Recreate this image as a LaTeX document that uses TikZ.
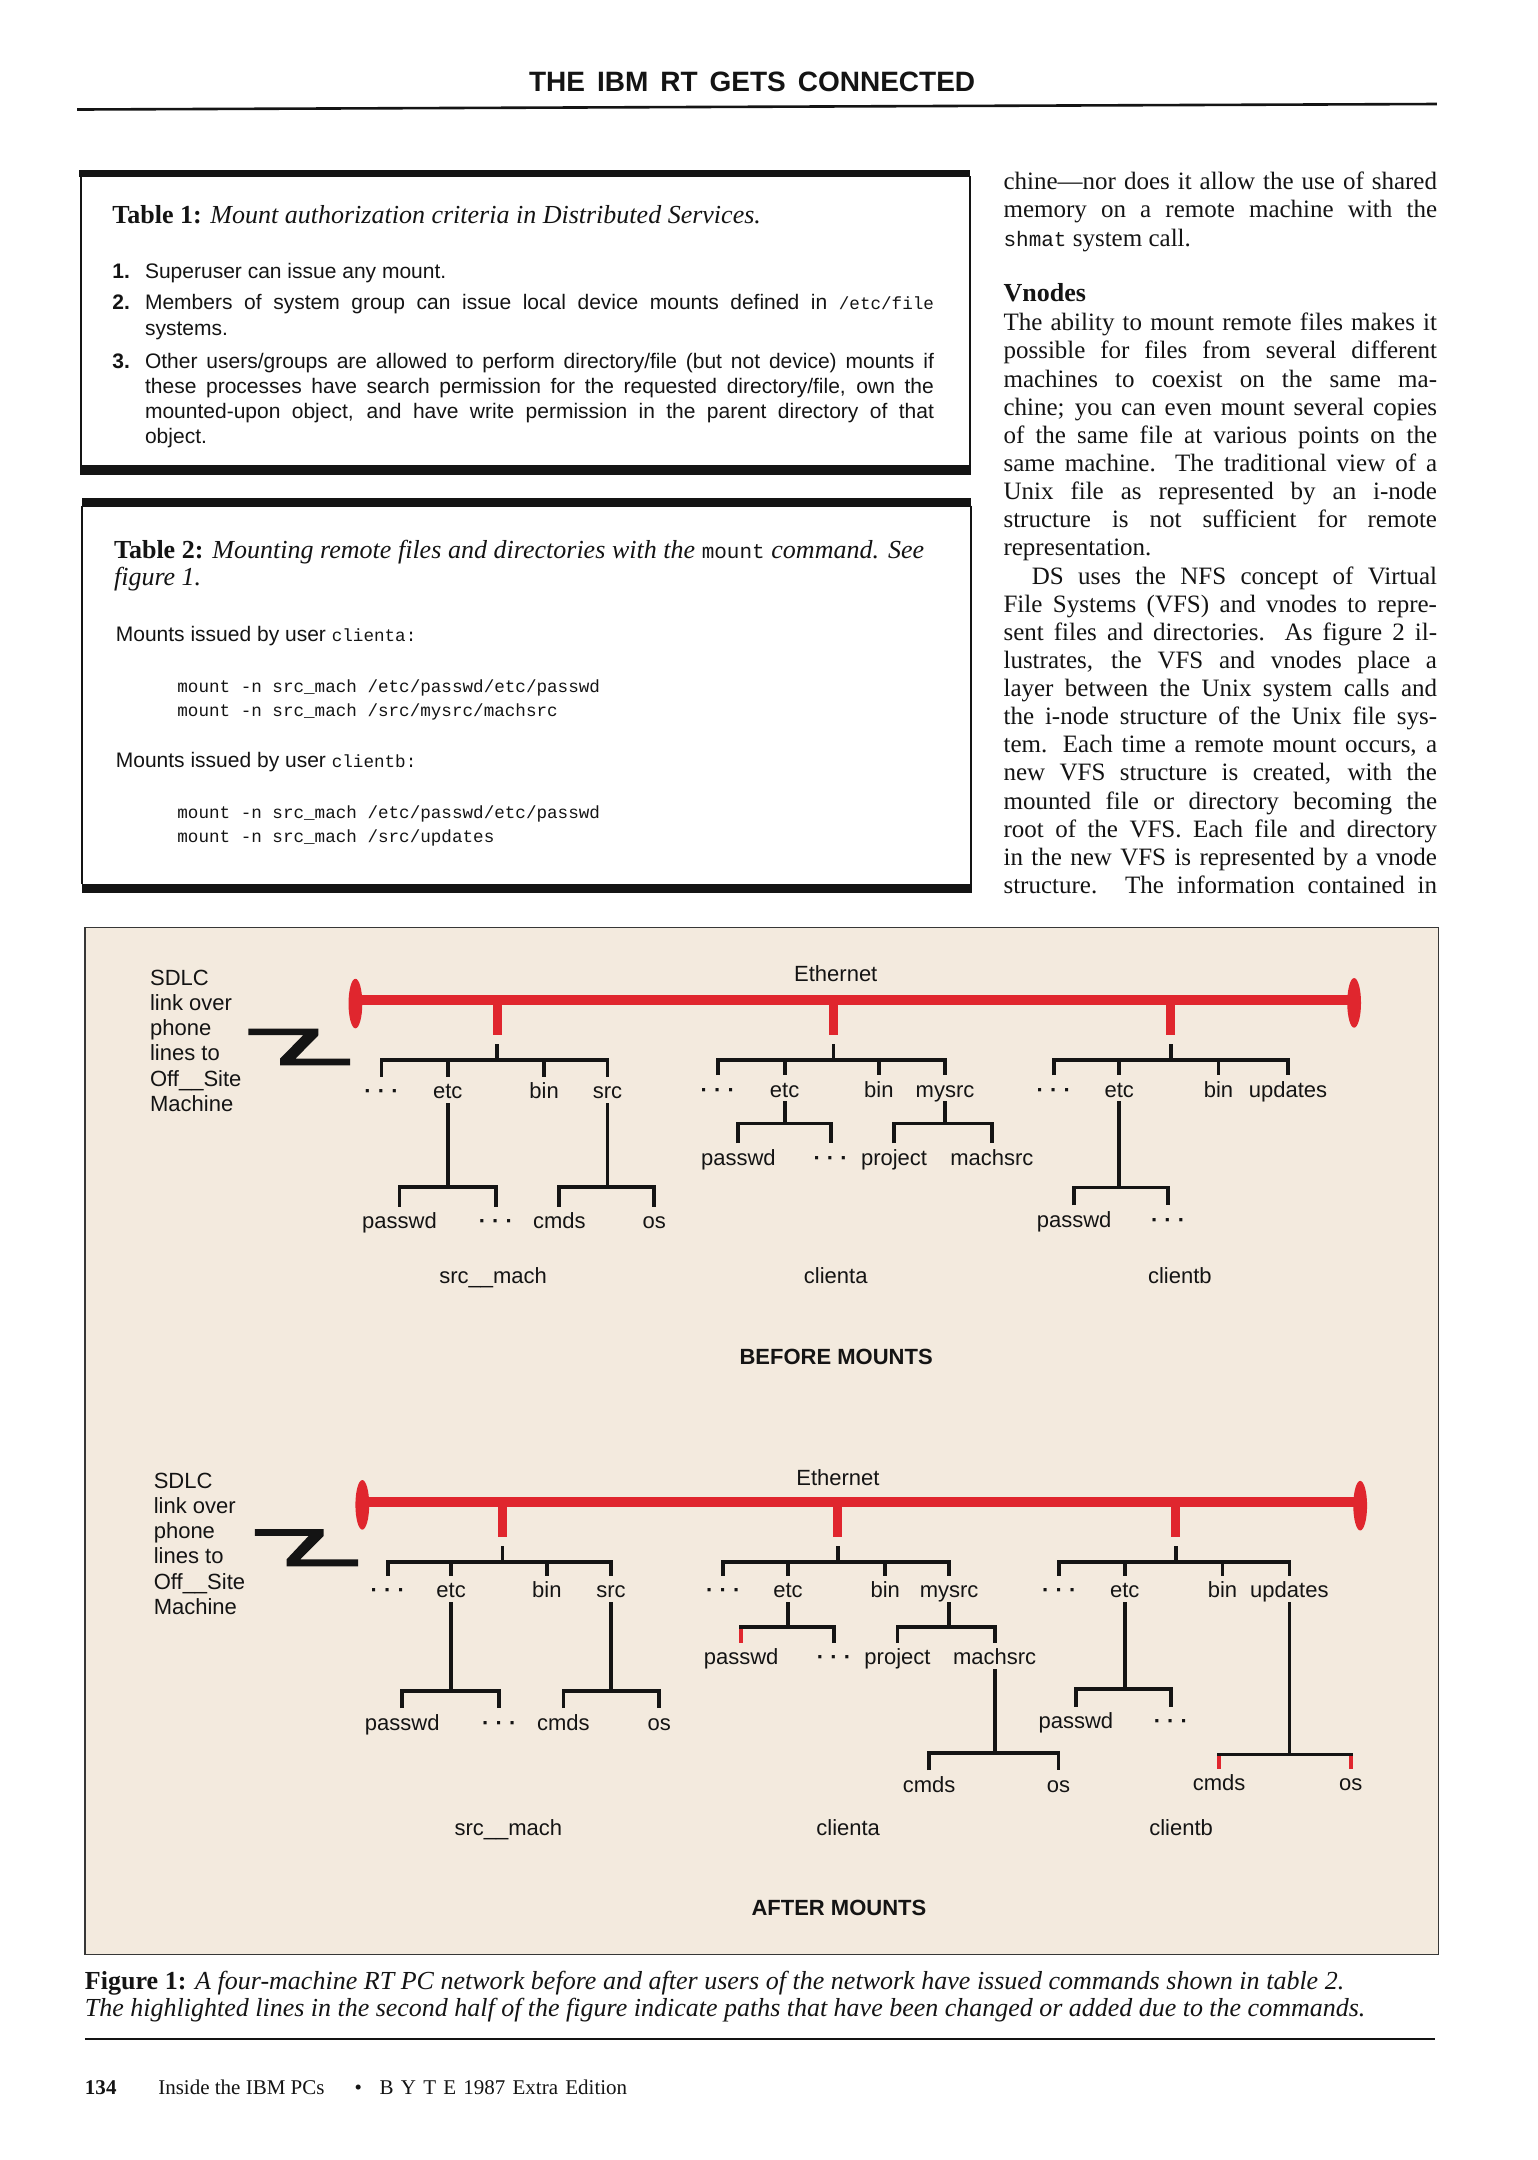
\documentclass[tikz,border=0pt]{standalone}
\usepackage{fontspec}
\setmainfont{Liberation Serif}
\setsansfont{Liberation Sans}
\setmonofont{Liberation Mono}
\definecolor{ethred}{RGB}{224,38,46}
\definecolor{figbg}{RGB}{243,234,222}
\definecolor{ink}{RGB}{20,20,20}
\newcommand\tdots{\textbf{·\hspace{0.28em}·\hspace{0.28em}·}}
\newcommand\brk[3]{\draw[tl] (#1.north) -- (#1.north |- #3) -- (#2.north |- #3) -- (#2.north);}
\newcommand\tck[2]{\draw[tl] (#1.north |- #2) -- (#1.north);}
\newcommand\rtck[2]{\draw[rtl] (#1.north |- #2) -- (#1.north);}
\newcommand\stm[2]{\draw[tl] (#1.south) -- (#1.south |- #2);}
\newcommand\jb[2]{\makebox[#1][s]{#2}}
\newcommand\mtt[1]{{\fontsize{17.6}{20}\selectfont\ttfamily #1}}
\begin{document}
\begin{tikzpicture}[x=1.3772pt,y=-1.3772pt,
  lbl/.style={font=\fontsize{22}{25}\selectfont\sffamily, inner sep=0pt, outer sep=0pt, text height=22.1pt, text depth=4.3pt, anchor=mid, yshift=-4.5pt, text=ink},
  sdlc/.style={anchor=north west, align=left, inner sep=0pt, font=\fontsize{22}{25.2}\selectfont\sffamily, text=ink},
  ttl/.style={anchor=base, inner sep=0pt, font=\fontsize{22}{26}\selectfont\sffamily\bfseries, text=ink},
  tl/.style={line width=3.8pt, line join=miter, line cap=butt, draw=ink},
  rtl/.style={line width=3.8pt, line cap=butt, draw=ethred},
  bus/.style={line width=10pt, draw=ethred},
  drop/.style={line width=9pt, draw=ethred},
  txt/.style={anchor=base west, inner sep=0pt, outer sep=0pt, text=ink},
  hdr/.style={anchor=base, inner sep=0pt, font=\fontsize{28}{32}\selectfont\sffamily\bfseries, text=ink},
  col/.style={txt, font=\fontsize{25}{28}\selectfont\rmfamily},
  t1/.style={txt, font=\fontsize{21}{25}\selectfont\sffamily},
  tnum/.style={txt, font=\fontsize{21}{25}\selectfont\sffamily\bfseries},
  ttitle/.style={txt, font=\fontsize{26}{30}\selectfont\rmfamily},
  mono/.style={txt, font=\fontsize{17.6}{20}\selectfont\ttfamily},
  capt/.style={txt, font=\fontsize{26}{28}\selectfont\rmfamily\itshape},
  foot/.style={txt, font=\fontsize{21}{24}\selectfont\rmfamily}
]
\fill[white] (0,0) rectangle (1116,1568);
\useasboundingbox (0,0) rectangle (1116,1568);

% ---------- header ----------
\node[hdr] (hdr) at (546,66.6) {\jb{446pt}{THE IBM RT GETS CONNECTED}};
\coordinate (hrL) at (56,79.5);
\coordinate (hrR) at (1043,75.5);
\draw[line width=2.6pt, ink] (hrL) -- (hrR);

% ---------- Table 1 ----------
\fill[ink] (57.2,123.4) rectangle (703.8,128.8);
\draw[line width=1.8pt, ink] (58.8,128) -- (58.8,338);
\draw[line width=1.8pt, ink] (704,128) -- (704,338);
\fill[ink] (58,337.6) rectangle (704.8,345);
\node[ttitle] (t1t) at (81.6,162) {\textbf{Table 1:} \textit{Mount authorization criteria in Distributed Services.}};
\node[tnum] (t1n1) at (81.6,202) {1.};
\node[t1] (t1a) at (105.3,202) {Superuser can issue any mount.};
\node[tnum] (t1n2) at (81.6,225) {2.};
\node[t1] (t1b) at (105.3,225) {\jb{788.7pt}{Members of system group can issue local device mounts defined in \mtt{/etc/file}}};
\node[t1] (t1c) at (105.3,243.3) {systems.};
\node[tnum] (t1n3) at (81.6,267.5) {3.};
\node[t1] (t1d) at (105.3,267.5) {\jb{788.7pt}{Other users/groups are allowed to perform directory/file (but not device) mounts if}};
\node[t1] (t1e) at (105.3,285.6) {\jb{788.7pt}{these processes have search permission for the requested directory/file, own the}};
\node[t1] (t1f) at (105.3,303.8) {\jb{788.7pt}{mounted-upon object, and have write permission in the parent directory of that}};
\node[t1] (t1g) at (105.3,321.9) {object.};

% ---------- Table 2 ----------
\fill[ink] (59.3,361.8) rectangle (705,367.9);
\draw[line width=1.8pt, ink] (59.8,367) -- (59.8,642);
\draw[line width=1.8pt, ink] (705,367) -- (705,642);
\fill[ink] (59.3,641.4) rectangle (705.5,648.6);
\node[ttitle] (t2t) at (82.8,405.4) {\jb{809.9pt}{\textbf{Table 2:} \textit{Mounting remote files and directories with the} {\fontsize{21}{24}\selectfont\ttfamily mount} \textit{command. See}}};
\node[ttitle] (t2t2) at (82.8,424.8) {\textit{figure 1.}};
\node[t1] (t2a) at (84.1,465.9) {Mounts issued by user \mtt{clienta:}};
\node[mono] (t2b) at (128.8,503) {mount -n src\_mach /etc/passwd/etc/passwd};
\node[mono] (t2c) at (128.8,520.4) {mount -n src\_mach /src/mysrc/machsrc};
\node[t1] (t2d) at (84.1,557.2) {Mounts issued by user \mtt{clientb:}};
\node[mono] (t2e) at (128.8,594.2) {mount -n src\_mach /etc/passwd/etc/passwd};
\node[mono] (t2f) at (128.8,611.9) {mount -n src\_mach /src/updates};

% ---------- right column ----------
\node[col] (c01) at (728.5,137.5) {\jb{433.4pt}{chine—nor does it allow the use of shared}};
\node[col] (c02) at (728.5,158) {\jb{433.4pt}{memory on a remote machine with the}};
\node[col] (c03) at (728.5,178.6) {{\fontsize{21}{28}\selectfont\ttfamily shmat} system call.};
\node[col, font=\fontsize{26}{28}\selectfont\rmfamily\bfseries] (vh) at (728.5,219) {Vnodes};
\node[col] (p00) at (728.5,240.2) {\jb{433.4pt}{The ability to mount remote files makes it}};
\node[col] (p01) at (728.5,260.6) {\jb{433.4pt}{possible for files from several different}};
\node[col] (p02) at (728.5,281.0) {\jb{433.4pt}{machines to coexist on the same ma-}};
\node[col] (p03) at (728.5,301.5) {\jb{433.4pt}{chine; you can even mount several copies}};
\node[col] (p04) at (728.5,321.9) {\jb{433.4pt}{of the same file at various points on the}};
\node[col] (p05) at (728.5,342.3) {\jb{433.4pt}{same machine. The traditional view of a}};
\node[col] (p06) at (728.5,362.7) {\jb{433.4pt}{Unix file as represented by an i-node}};
\node[col] (p07) at (728.5,383.1) {\jb{433.4pt}{structure is not sufficient for remote}};
\node[col] (p08) at (728.5,403.6) {representation.};
\node[col] (p09) at (749,424.0) {\jb{405.2pt}{DS uses the NFS concept of Virtual}};
\node[col] (p10) at (728.5,444.4) {\jb{433.4pt}{File Systems (VFS) and vnodes to repre-}};
\node[col] (p11) at (728.5,464.8) {\jb{433.4pt}{sent files and directories. As figure 2 il-}};
\node[col] (p12) at (728.5,485.2) {\jb{433.4pt}{lustrates, the VFS and vnodes place a}};
\node[col] (p13) at (728.5,505.7) {\jb{433.4pt}{layer between the Unix system calls and}};
\node[col] (p14) at (728.5,526.1) {\jb{433.4pt}{the i-node structure of the Unix file sys-}};
\node[col] (p15) at (728.5,546.5) {\jb{433.4pt}{tem. Each time a remote mount occurs, a}};
\node[col] (p16) at (728.5,566.9) {\jb{433.4pt}{new VFS structure is created, with the}};
\node[col] (p17) at (728.5,587.3) {\jb{433.4pt}{mounted file or directory becoming the}};
\node[col] (p18) at (728.5,607.8) {\jb{433.4pt}{root of the VFS. Each file and directory}};
\node[col] (p19) at (728.5,628.2) {\jb{433.4pt}{in the new VFS is represented by a vnode}};
\node[col] (p20) at (728.5,648.6) {\jb{433.4pt}{structure. The information contained in}};

% ---------- figure frame ----------
\draw[line width=1.5pt, draw=ink!85, fill=figbg] (61.6,673.3) rectangle (1044.4,1418.8);

% ===== BEFORE MOUNTS =====
\node[sdlc] (sdlc1) at (108.8,704) {SDLC\\link over\\phone\\lines to\\Off\_\_Site\\Machine};
\fill[ink] (180.3,746.7) -- (231.2,746.7) -- (231.2,751.5) -- (214.5,768.5) -- (254.1,768.5) -- (254.1,773.3) -- (203.3,773.3) -- (203.3,768.5) -- (220,751.5) -- (180.3,751.5) -- cycle;
\node[ttl] (eth1) at (606.7,712.7) {\fontseries{m}\selectfont Ethernet};
\coordinate (busL1) at (258,726);
\coordinate (busR1) at (983,726);
\draw[bus] (busL1) -- (busR1);
\fill[ethred] (258,728.5) ellipse [x radius=5, y radius=18];
\fill[ethred] (983,728) ellipse [x radius=5, y radius=18];
\coordinate (dA1) at (360.8,751.5);
\coordinate (dA2) at (605,751.5);
\coordinate (dA3) at (850,751.5);
\draw[drop] (dA1 |- busL1) -- (dA1);
\draw[drop] (dA2 |- busL1) -- (dA2);
\draw[drop] (dA3 |- busL1) -- (dA3);
% tree src_mach
\node[lbl] (d1) at (277,792.7) {\tdots};
\node[lbl] (etc1) at (325,792.7) {etc};
\node[lbl] (bin1) at (395,792.7) {bin};
\node[lbl] (src1) at (441,792.7) {src};
\node[lbl] (pw1) at (290,887) {passwd};
\node[lbl] (dd1) at (360,887) {\tdots};
\node[lbl] (cm1) at (406,887) {cmds};
\node[lbl] (os1) at (475,887) {os};
\node[lbl] (sm1) at (358,927) {src\_\_mach};
\coordinate (s1) at (360.8,758);
\coordinate (r1) at (360.8,769.7);
\draw[tl] (s1) -- (r1);
\brk{d1}{src1}{r1} \tck{etc1}{r1} \tck{bin1}{r1}
\coordinate (j1e) at (325,861.7);
\stm{etc1}{j1e} \brk{pw1}{dd1}{j1e}
\coordinate (j1s) at (441,861.7);
\stm{src1}{j1s} \brk{cm1}{os1}{j1s}
% tree clienta
\node[lbl] (d2) at (521,791.5) {\tdots};
\node[lbl] (etc2) at (569.6,791.5) {etc};
\node[lbl] (bin2) at (638,791.5) {bin};
\node[lbl] (my2) at (686,791.5) {mysrc};
\node[lbl] (pw2) at (536,841) {passwd};
\node[lbl] (dd2) at (603,841) {\tdots};
\node[lbl] (pj2) at (649,841) {project};
\node[lbl] (ms2) at (720,841) {machsrc};
\node[lbl] (ca1) at (606.7,927) {clienta};
\coordinate (s2) at (605,758);
\coordinate (r2) at (605,769.7);
\draw[tl] (s2) -- (r2);
\brk{d2}{my2}{r2} \tck{etc2}{r2} \tck{bin2}{r2}
\coordinate (j2e) at (569.6,815.5);
\stm{etc2}{j2e} \brk{pw2}{dd2}{j2e}
\coordinate (j2m) at (686,815.5);
\stm{my2}{j2m} \brk{pj2}{ms2}{j2m}
% tree clientb
\node[lbl] (d3) at (765,791.5) {\tdots};
\node[lbl] (etc3) at (812.5,791.5) {etc};
\node[lbl] (bin3) at (884.5,791.5) {bin};
\node[lbl] (up3) at (935,791.5) {updates};
\node[lbl] (pw3) at (779.7,886) {passwd};
\node[lbl] (dd3) at (848,886) {\tdots};
\node[lbl] (cb1) at (856.5,927) {clientb};
\coordinate (s3) at (850,758);
\coordinate (r3) at (850,769.7);
\draw[tl] (s3) -- (r3);
\brk{d3}{up3}{r3} \tck{etc3}{r3} \tck{bin3}{r3}
\coordinate (j3e) at (812.5,862);
\stm{etc3}{j3e} \brk{pw3}{dd3}{j3e}
\node[ttl] (bm) at (607,990.2) {BEFORE MOUNTS};

% ===== AFTER MOUNTS =====
\node[sdlc] (sdlc2) at (111.5,1069.1) {SDLC\\link over\\phone\\lines to\\Off\_\_Site\\Machine};
\fill[ink] (185,1110) -- (235,1110) -- (235,1115) -- (218,1132) -- (260,1132) -- (260,1137) -- (208,1137) -- (208,1132) -- (224,1115) -- (185,1115) -- cycle;
\node[ttl] (eth2) at (608.3,1078) {\fontseries{m}\selectfont Ethernet};
\coordinate (busL2) at (263,1090);
\coordinate (busR2) at (987.4,1090);
\draw[bus] (busL2) -- (busR2);
\fill[ethred] (263,1092.4) ellipse [x radius=5, y radius=18];
\fill[ethred] (987.4,1093) ellipse [x radius=5, y radius=18];
\coordinate (dB1) at (364.8,1116);
\coordinate (dB2) at (608.3,1116);
\coordinate (dB3) at (853.4,1116);
\draw[drop] (dB1 |- busL2) -- (dB1);
\draw[drop] (dB2 |- busL2) -- (dB2);
\draw[drop] (dB3 |- busL2) -- (dB3);
% tree src_mach
\node[lbl] (d4) at (281.5,1155) {\tdots};
\node[lbl] (etc4) at (327.5,1155) {etc};
\node[lbl] (bin4) at (397,1155) {bin};
\node[lbl] (src4) at (443.5,1155) {src};
\node[lbl] (pw4) at (292,1251) {passwd};
\node[lbl] (dd4) at (362.5,1251) {\tdots};
\node[lbl] (cm4) at (409,1251) {cmds};
\node[lbl] (os4) at (478.5,1251) {os};
\node[lbl] (sm2) at (369,1327.3) {src\_\_mach};
\coordinate (s4) at (364.8,1122.4);
\coordinate (r4) at (364.8,1133.6);
\draw[tl] (s4) -- (r4);
\brk{d4}{src4}{r4} \tck{etc4}{r4} \tck{bin4}{r4}
\coordinate (j4e) at (327.5,1227.4);
\stm{etc4}{j4e} \brk{pw4}{dd4}{j4e}
\coordinate (j4s) at (443.5,1227.4);
\stm{src4}{j4s} \brk{cm4}{os4}{j4s}
% tree clienta
\node[lbl] (d5) at (525,1155) {\tdots};
\node[lbl] (etc5) at (572,1155) {etc};
\node[lbl] (bin5) at (642.6,1155) {bin};
\node[lbl] (my5) at (689,1155) {mysrc};
\node[lbl] (pw5) at (538,1203.6) {passwd};
\node[lbl] (dd5) at (605.5,1203.6) {\tdots};
\node[lbl] (pj5) at (651.5,1203.6) {project};
\node[lbl] (ms5) at (722,1203.6) {machsrc};
\node[lbl] (cm5) at (674.5,1296) {cmds};
\node[lbl] (os5) at (768.4,1296) {os};
\node[lbl] (ca2) at (615.7,1327.3) {clienta};
\coordinate (s5) at (608.3,1122.4);
\coordinate (r5) at (608.3,1133.6);
\draw[tl] (s5) -- (r5);
\brk{d5}{my5}{r5} \tck{etc5}{r5} \tck{bin5}{r5}
\coordinate (j5e) at (572,1181.1);
\stm{etc5}{j5e}
\rtck{pw5}{j5e}
\draw[tl, line cap=rect] (pw5.north |- j5e) -- (dd5.north |- j5e);
\tck{dd5}{j5e}
\coordinate (j5m) at (689,1181.1);
\stm{my5}{j5m} \brk{pj5}{ms5}{j5m}
\coordinate (j5x) at (722,1272.4);
\stm{ms5}{j5x} \brk{cm5}{os5}{j5x}
% tree clientb
\node[lbl] (d6) at (768.9,1155) {\tdots};
\node[lbl] (etc6) at (816.5,1155) {etc};
\node[lbl] (bin6) at (887.4,1155) {bin};
\node[lbl] (up6) at (936,1155) {updates};
\node[lbl] (pw6) at (781,1249.9) {passwd};
\node[lbl] (dd6) at (850,1249.9) {\tdots};
\node[lbl] (cm6) at (885,1295) {cmds};
\node[lbl] (os6) at (980.5,1295) {os};
\node[lbl] (cb2) at (857.4,1327.3) {clientb};
\coordinate (s6) at (853.4,1122.4);
\coordinate (r6) at (853.4,1133.6);
\draw[tl] (s6) -- (r6);
\brk{d6}{up6}{r6} \tck{etc6}{r6} \tck{bin6}{r6}
\coordinate (j6e) at (816.5,1226.1);
\stm{etc6}{j6e} \brk{pw6}{dd6}{j6e}
\coordinate (j6u) at (936,1273.6);
\stm{up6}{j6u}
\rtck{cm6}{j6u} \rtck{os6}{j6u}
\draw[tl, line cap=rect] (cm6.north |- j6u) -- (os6.north |- j6u);
\node[ttl] (am) at (609,1390.3) {AFTER MOUNTS};

% ---------- caption ----------
\node[capt] (cap1) at (61.7,1444.5) {\jb{1259pt}{{\upshape\bfseries Figure 1:} A four-machine RT PC network before and after users of the network have issued commands shown in table 2.}};
\node[capt] (cap2) at (61.7,1463.8) {\jb{1280pt}{The highlighted lines in the second half of the figure indicate paths that have been changed or added due to the commands.}};
\coordinate (brL) at (61.7,1480);
\coordinate (brR) at (1042,1480);
\draw[line width=2.4pt, ink] (brL) -- (brR);

% ---------- footer ----------
\node[foot, font=\fontsize{21}{24}\selectfont\rmfamily\bfseries] (pg) at (61.7,1520.5) {134};
\node[foot] (f1) at (114.9,1520.5) {Inside the IBM PCs};
\node[foot] (f2) at (257.5,1520.5) {•};
\node[foot] (f3) at (275.6,1520.5) {\jb{247.5pt}{B Y T E 1987 Extra Edition}};
\end{tikzpicture}
\end{document}
